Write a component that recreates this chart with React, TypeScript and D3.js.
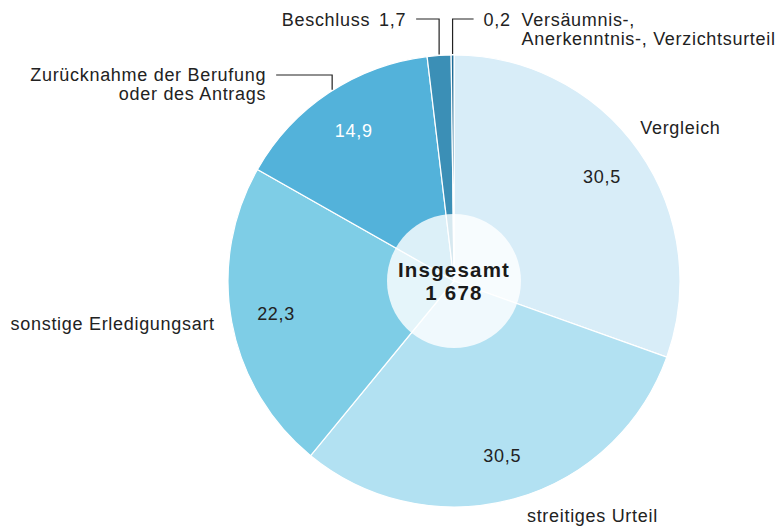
import React from 'react'
import * as d3 from 'd3'

// Erledigungen nach Art, Anteile in %
const categories = [
  'Vergleich',
  'streitiges Urteil',
  'sonstige Erledigungsart',
  'Zurücknahme der Berufung oder des Antrags',
  'Beschluss',
  'Versäumnis-, Anerkenntnis-, Verzichtsurteil',
]
const shares = [30.5, 30.5, 22.3, 14.9, 1.7, 0.2]
const colors = ['#d8edf8', '#b2e1f2', '#7ecde6', '#53b2da', '#3b8fb6', '#1d6b96']
const totalLabel = 'Insgesamt'
const total = 1678

const W = 777
const H = 529
const cx = 454
const cy = 281
const R = 226
const innerR = 67

const de = d3.formatLocale({decimal: ',', thousands: '\u202f', grouping: [3], currency: ['', ' €']})
const fmtShare = de.format('.1f')
const fmtTotal = (v: number) => de.format(',d')(v).replace(/\u202f/g, ' ')

const font = '"Liberation Sans", Arial, sans-serif'
const ink = '#222'

export default function App() {
  const pie = d3.pie<number>().sort(null).value(d => d)
  const arcs = pie(shares)
  const arc = d3.arc<d3.PieArcDatum<number>>().innerRadius(0).outerRadius(R)
  const labelArc = d3.arc<d3.PieArcDatum<number>>().innerRadius(181).outerRadius(181)

  const polar = (a: number, r: number): [number, number] => [Math.sin(a) * r, -Math.cos(a) * r]
  const mid = (i: number) => (arcs[i].startAngle + arcs[i].endAngle) / 2
  const deg = Math.PI / 180

  // value labels inside the big slices
  const inside = [0, 1, 2, 3]

  // leader lines: angle where the line leaves the pie edge, height of the bend, horizontal run
  const leaders = [
    {angle: mid(4), elbowY: 19 - cy, len: -23},
    {angle: mid(5), elbowY: 19 - cy, len: 21},
    {angle: mid(3) + 1 * deg, elbowY: 75 - cy, len: -56},
  ]
  const leaderPts = leaders.map(l => {
    const [x0, y0] = polar(l.angle, R)
    return {x0, y0, x1: x0 + l.len, y1: l.elbowY}
  })
  const line = d3.line()

  const txt = {fontFamily: font, fontSize: 18, fill: ink, letterSpacing: 0.7}

  const [vx, vy] = polar(mid(0), 272)
  const [ux, uy] = polar(mid(1) - 15 * deg, 273)
  const [sx, sy] = polar(mid(2), R)

  return (
    <svg width={W} height={H} style={{position: 'absolute', left: 0, top: 0}}>
      <g transform={`translate(${cx},${cy})`}>
        {arcs.map((a, i) => (
          <path key={categories[i]} d={arc(a) || ''} fill={colors[i]} stroke="#fff" strokeWidth={1.2} />
        ))}
        <circle r={innerR} fill="#fff" fillOpacity={0.8} />

        {inside.map(i => {
          const [x, y] = labelArc.centroid(arcs[i])
          return (
            <text key={i} x={x} y={y} dy="0.35em" textAnchor="middle" {...txt}
              fill={i === 3 ? '#fff' : ink}>
              {fmtShare(shares[i])}
            </text>
          )
        })}

        {leaderPts.map((p, k) => (
          <path key={k} d={line([[p.x0, p.y0 - 1], [p.x0, p.y1], [p.x1, p.y1]]) || ''}
            fill="none" stroke={ink} strokeWidth={1.2} />
        ))}

        {/* Beschluss */}
        <text x={leaderPts[0].x1 - 10} y={leaderPts[0].y1 + 7} textAnchor="end" {...txt}>
          {fmtShare(shares[4])}
        </text>
        <text x={leaderPts[0].x1 - 46} y={leaderPts[0].y1 + 7} textAnchor="end" {...txt}>
          {categories[4]}
        </text>

        {/* Versäumnis- ... */}
        <text x={leaderPts[1].x1 + 10} y={leaderPts[1].y1 + 7} {...txt}>
          {fmtShare(shares[5])}
        </text>
        <text x={leaderPts[1].x1 + 48} y={leaderPts[1].y1 + 7} {...txt}>
          <tspan>Versäumnis-,</tspan>
          <tspan x={leaderPts[1].x1 + 48} dy={19}>Anerkenntnis-, Verzichtsurteil</tspan>
        </text>

        {/* Zurücknahme */}
        <text x={leaderPts[2].x1 - 10} y={leaderPts[2].y1 + 6} textAnchor="end" {...txt}>
          <tspan>Zurücknahme der Berufung</tspan>
          <tspan x={leaderPts[2].x1 - 10} dy={19}>oder des Antrags</tspan>
        </text>

        {/* outer labels of the big slices */}
        <text x={vx + 4} y={vy + 10} textAnchor="middle" {...txt}>{categories[0]}</text>
        <text x={ux} y={uy + 6} textAnchor="middle" {...txt}>{categories[1]}</text>
        <text x={sx - 17} y={sy + 1} dy="0.35em" textAnchor="end" {...txt}>{categories[2]}</text>

        <text y={-4} textAnchor="middle" fontFamily={font} fontWeight="bold" fontSize={20.5}
          letterSpacing={1.2} fill="#1a1a1a">{totalLabel}</text>
        <text y={19} textAnchor="middle" fontFamily={font} fontWeight="bold" fontSize={20.5}
          letterSpacing={1.2} fill="#1a1a1a">{fmtTotal(total)}</text>
      </g>
    </svg>
  )
}
